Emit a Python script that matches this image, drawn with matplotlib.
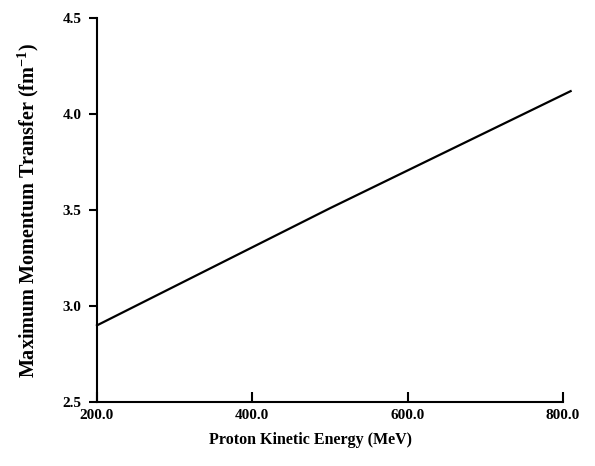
import numpy as np
import matplotlib.pyplot as plt

plt.rcParams['font.family'] = ['Liberation Serif', 'DejaVu Serif']
plt.rcParams['mathtext.fontset'] = 'custom'
plt.rcParams['mathtext.rm'] = 'Liberation Serif:bold'
plt.rcParams['mathtext.bf'] = 'Liberation Serif:bold'

# proton kinetic energy (MeV) vs max momentum transfer (fm^-1)
energy = [200.0, 500.0, 810.0]
q_max = [2.90, 3.51, 4.12]

x_ticks = [200.0, 400.0, 600.0, 800.0]
y_ticks = [2.5, 3.0, 3.5, 4.0, 4.5]

fig = plt.figure(figsize=(5.95, 4.66), dpi=100)
ax = fig.add_axes([0.163, 0.137, 0.783, 0.824])

ax.plot(energy, q_max, color='black', linewidth=1.6, clip_on=False)

ax.set_xlim(200, 800)
ax.set_ylim(2.5, 4.5)
ax.set_xticks(x_ticks)
ax.set_xticklabels(['%.1f' % v for v in x_ticks])
ax.set_yticks(y_ticks)
ax.set_yticklabels(['%.1f' % v for v in y_ticks])

for s in ['top', 'right']:
    ax.spines[s].set_visible(False)
for s in ['left', 'bottom']:
    ax.spines[s].set_linewidth(1.5)

ax.tick_params(axis='x', direction='in', length=7, width=1.5, pad=5,
               labelsize=11)
ax.tick_params(axis='y', direction='out', length=6, width=1.5, pad=5,
               labelsize=11)
for lab in ax.get_xticklabels() + ax.get_yticklabels():
    lab.set_fontweight('bold')

ax.set_xlabel('Proton Kinetic Energy (MeV)', fontsize=11.5, fontweight='bold',
              labelpad=9)
ax.xaxis.set_label_coords(0.458, -0.078)
ax.set_ylabel('Maximum Momentum Transfer (fm$^{-1}$)', fontsize=14.5,
              fontweight='bold')
ax.yaxis.set_label_coords(-0.12, 0.5)

fig.savefig('out.png', dpi=100)
